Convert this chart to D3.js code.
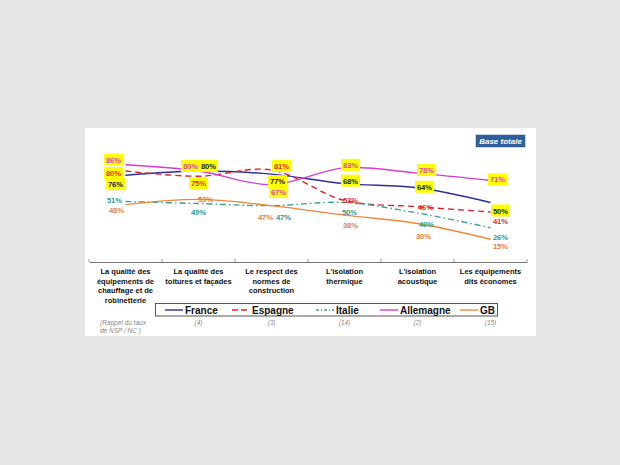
<!DOCTYPE html>
<html><head><meta charset="utf-8">
<script src="https://cdn.jsdelivr.net/npm/d3@7"></script>
<style>
html,body{margin:0;padding:0;background:#e6e6e6;}
svg{display:block;}
</style></head>
<body>
<svg id="c" width="620" height="465"></svg>
<script>
// ---- data ----
const categories = [
  ["La qualité des","équipements de","chauffage et de","robinetterie"],
  ["La qualité des","toitures et façades"],
  ["Le respect des","normes de","construction"],
  ["L'isolation","thermique"],
  ["L'isolation","acoustique"],
  ["Les équipements","dits économes"]
];
const seriesNames = ["France","Espagne","Italie","Allemagne","GB"];
const france    = [76, 80, 77, 68, 64, 50];
const espagne   = [80, 75, 81, 52, 46, 41];
const italie    = [51, 49, 47, 50, 40, 26];
const allemagne = [86, 80, 67, 83, 78, 71];
const gb        = [48, 53, 47, 38, 30, 15];
const nspNotes  = ["(Rappel du taux|de NSP / NC )", "(4)", "(3)", "(14)", "(2)", "(15)"];
const highlighted = [
  [1,1,1,1,1,1],
  [1,1,1,0,0,0],
  [0,0,0,0,0,0],
  [1,1,1,1,1,1],
  [0,0,0,0,0,0]
];

// ---- layout / style ----
const values = [france, espagne, italie, allemagne, gb];
const lineColors  = ["#2a2f96", "#d9262a", "#3a9f8c", "#d63ccf", "#f0883a"];
const textColors  = ["#1a1a40", "#e0302a", "#33998a", "#e040c0", "#e8803a"];
const dashes      = [null, "6,4", "6,3,1.5,3", null, null];
// label nudges [dx,dy] relative to the point
const nudges = [
  [[-10,9],[10,-5],[6,7],[6,-3],[7,-1],[10,8]],
  [[-12,2],[0,7],[10,-4],[6,0],[8,0],[10,9]],
  [[-11,-1],[0,8],[12,11],[5,9],[9,11],[10,9]],
  [[-12,-5],[-8,-5],[7,7],[6,-3],[9,-3],[7,-1]],
  [[-9,5],[7,0],[-6,11],[6,10],[6,12],[10,7]]
];
const legendX = [165, 232, 316, 380, 460];

const svg = d3.select("#c");
const font = "'Liberation Sans', Arial, sans-serif";

// white panel
svg.append("rect").attr("x",85).attr("y",128).attr("width",451).attr("height",208).attr("fill","#ffffff");

const x = d3.scaleBand().domain(d3.range(categories.length)).range([89, 527]);
const y = d3.scaleLinear().domain([0, 100]).range([255, 150]);
const cx = i => x(i) + x.bandwidth()/2;

// axis
const axis = d3.axisBottom(x).tickSize(0).tickFormat("");
const ag = svg.append("g").attr("transform","translate(0,262)").call(axis);
ag.select(".domain").attr("stroke","#777").attr("stroke-width",1);
ag.selectAll(".tick").remove();
const bounds = d3.range(categories.length+1).map(i => i < categories.length ? x(i) : x(i-1)+x.bandwidth());
svg.append("g").selectAll("line").data(bounds).join("line")
  .attr("x1",d=>d).attr("x2",d=>d).attr("y1",262).attr("y2",259)
  .attr("stroke","#999").attr("stroke-width",1);

// lines
const line = d3.line().x((d,i)=>cx(i)).y(d=>y(d)).curve(d3.curveCatmullRom.alpha(0.5));
svg.append("g").selectAll("path").data(values).join("path")
  .attr("d", d => line(d))
  .attr("fill","none")
  .attr("stroke",(d,i)=>lineColors[i])
  .attr("stroke-width",1.4)
  .attr("stroke-dasharray",(d,i)=>dashes[i]);

// labels
const labels = [];
values.forEach((arr,s)=>arr.forEach((v,c)=>labels.push({s,c,v,
  lx: cx(c)+nudges[s][c][0], ly: y(v)+nudges[s][c][1], hi: highlighted[s][c]})));
svg.append("g").selectAll("rect").data(labels.filter(d=>d.hi)).join("rect")
  .attr("x",d=>d.lx-9.5).attr("y",d=>d.ly-6).attr("width",19).attr("height",12)
  .attr("fill","#ffff00");
svg.append("g").selectAll("text").data(labels).join("text")
  .attr("x",d=>d.lx).attr("y",d=>d.ly+3)
  .attr("text-anchor","middle")
  .attr("font-family",font).attr("font-size","7.6px").attr("font-weight","bold")
  .attr("fill",d=>textColors[d.s])
  .text(d=>d.v+"%");

// category labels
const cg = svg.append("g");
categories.forEach((lines,i)=>{
  const t = cg.append("text").attr("text-anchor","middle")
    .attr("font-family",font).attr("font-size","7.5px").attr("font-weight","bold").attr("fill","#111");
  lines.forEach((ln,k)=>t.append("tspan").attr("x",cx(i)).attr("y",274+k*9.6).text(ln));
});

// legend
svg.append("rect").attr("x",155.5).attr("y",303.5).attr("width",342).attr("height",12.5)
  .attr("fill","#fff").attr("stroke","#555").attr("stroke-width",1);
const lg = svg.append("g").selectAll("g").data(seriesNames).join("g")
  .attr("transform",(d,i)=>`translate(${legendX[i]},310)`);
lg.append("line").attr("x1",0).attr("x2",18).attr("y1",0).attr("y2",0)
  .attr("stroke",(d,i)=>lineColors[i]).attr("stroke-width",1.4)
  .attr("stroke-dasharray",(d,i)=>dashes[i] ? (i===1?"6,3":"3,2,1,2") : null);
lg.append("text").attr("x",20).attr("y",3.6)
  .attr("font-family",font).attr("font-size","10px").attr("font-weight","bold").attr("fill","#111")
  .text(d=>d);

// NSP notes
const ng = svg.append("g");
nspNotes.forEach((n,i)=>{
  const t = ng.append("text").attr("text-anchor", i===0?"start":"middle")
    .attr("font-family",font).attr("font-size","6.5px").attr("font-style","italic").attr("fill","#888");
  n.split("|").forEach((ln,k)=>t.append("tspan").attr("x", i===0 ? 100 : cx(i)).attr("y",325+k*8).text(ln));
});

// Base totale badge
svg.append("rect").attr("x",475.5).attr("y",134.5).attr("width",50).attr("height",13)
  .attr("fill","#2f5f98").attr("stroke","#c8d4e6").attr("stroke-width",1);
svg.append("text").attr("x",500.5).attr("y",144).attr("text-anchor","middle")
  .attr("font-family",font).attr("font-size","8px").attr("font-weight","bold").attr("font-style","italic")
  .attr("fill","#fff").text("Base totale");
</script>
</body></html>
